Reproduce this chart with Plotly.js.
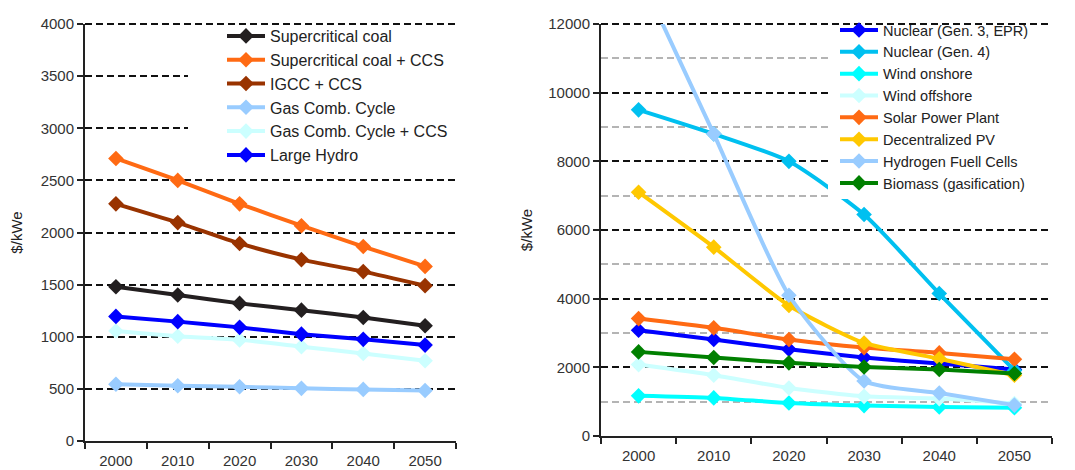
<!DOCTYPE html>
<html>
<head>
<meta charset="utf-8">
<script src="https://cdn.plot.ly/plotly-3.0.1.min.js"></script>
<style>html,body{margin:0;padding:0;background:#fff;}#chart{width:1075px;height:470px;}</style>
</head>
<body>
<div id="chart"></div>
<script>
// ---- data ----
const years = ["2000", "2010", "2020", "2030", "2040", "2050"];

// left chart
const leftNames = ["Supercritical coal", "Supercritical coal + CCS", "IGCC + CCS", "Gas Comb. Cycle", "Gas Comb. Cycle + CCS", "Large Hydro"];
const supercriticalCoal = [1480, 1400, 1320, 1255, 1185, 1105];
const supercriticalCoalCCS = [2710, 2500, 2275, 2065, 1865, 1675];
const igccCCS = [2275, 2095, 1895, 1740, 1625, 1490];
const gasCombCycle = [545, 530, 520, 505, 495, 485];
const gasCombCycleCCS = [1055, 1005, 970, 905, 840, 770];
const largeHydro = [1195, 1145, 1090, 1025, 975, 920];

// right chart
const rightNames = ["Nuclear (Gen. 3, EPR)", "Nuclear (Gen. 4)", "Wind onshore", "Wind offshore", "Solar Power Plant", "Decentralized PV", "Hydrogen Fuell Cells", "Biomass (gasification)"];
const nuclearGen3 = [3080, 2810, 2525, 2285, 2110, 1935];
const nuclearGen4 = [9500, 8800, 8000, 6450, 4150, 1910];
const windOnshore = [1170, 1110, 960, 885, 845, 825];
const windOffshore = [2080, 1770, 1400, 1155, 1090, 945];
const solarPowerPlant = [3420, 3150, 2810, 2575, 2420, 2235];
const decentralizedPV = [7100, 5500, 3800, 2710, 2250, 1770];
const hydrogenFuelCells = [13500, 8800, 4100, 1600, 1250, 900];
const biomass = [2450, 2285, 2130, 2010, 1935, 1820];

const leftSeries = [supercriticalCoal, supercriticalCoalCCS, igccCCS, gasCombCycle, gasCombCycleCCS, largeHydro];
const leftColors = ["#231f20", "#ff6a13", "#993300", "#99ccff", "#ccffff", "#0000ff"];
const rightSeries = [nuclearGen3, nuclearGen4, windOnshore, windOffshore, solarPowerPlant, decentralizedPV, hydrogenFuelCells, biomass];
const rightColors = ["#0000ff", "#00c0f0", "#00ffff", "#ccffff", "#ff6a13", "#ffc800", "#99ccff", "#008000"];

const FONT = "Liberation Sans, Arial, sans-serif";

function mk(name, ys, color, xa, ya, leg) {
  return {
    type: "scatter", mode: "lines+markers", name: name,
    x: years, y: ys, xaxis: xa, yaxis: ya, legend: leg,
    line: {color: color, width: 4, shape: "spline", smoothing: 0.6},
    marker: {symbol: "diamond", size: 12, color: color},
    cliponaxis: true
  };
}
const traces = [];
leftNames.forEach((n, i) => traces.push(mk(n, leftSeries[i], leftColors[i], "x", "y", "legend")));
rightNames.forEach((n, i) => traces.push(mk(n, rightSeries[i], rightColors[i], "x2", "y2", "legend2")));

const W = 1075, H = 470;
const GRID = "#111", DASH = "7px,4px";
const xCommon = {
  type: "category", tickson: "boundaries", ticks: "outside", ticklen: 6, tickwidth: 2,
  tickcolor: "#222", showline: true, linecolor: "#222", linewidth: 2, showgrid: false,
  range: [-0.5, 5.5], tickfont: {family: FONT, size: 15, color: "#333"}, fixedrange: true,
  ticklabelstandoff: 5
};
const yCommon = {
  ticks: "outside", ticklen: 6, tickwidth: 2, tickcolor: "#222", showline: true,
  linecolor: "#222", linewidth: 2, zeroline: false, showgrid: true, gridcolor: GRID,
  griddash: DASH, gridwidth: 2, tickfont: {family: FONT, size: 15, color: "#333"},
  fixedrange: true, tickformat: "d"
};

const layout = {
  width: W, height: H,
  margin: {l: 0, r: 0, t: 0, b: 0},
  paper_bgcolor: "#fff", plot_bgcolor: "#fff",
  font: {family: FONT, color: "#222"},
  xaxis: Object.assign({}, xCommon, {domain: [85 / W, 456 / W], anchor: "y"}),
  yaxis: Object.assign({}, yCommon, {domain: [1 - 441 / H, 1 - 24 / H], anchor: "x", range: [0, 4000], dtick: 500,
    title: {text: "$/kWe", font: {family: FONT, size: 15, color: "#222"}, standoff: 14}}),
  xaxis2: Object.assign({}, xCommon, {domain: [601 / W, 1052 / W], anchor: "y2"}),
  yaxis2: Object.assign({}, yCommon, {domain: [1 - 436 / H, 1 - 24 / H], anchor: "x2", range: [0, 12000], dtick: 2000,
    minor: {dtick: 1000, showgrid: true, gridcolor: "#b4b4b4", griddash: DASH, gridwidth: 2, ticks: ""},
    title: {text: "$/kWe", font: {family: FONT, size: 15, color: "#222"}, standoff: 12}}),
  legend: {x: 222 / W, y: 1 - 19 / H, xanchor: "left", yanchor: "top", bgcolor: "rgba(0,0,0,0)",
    font: {family: FONT, size: 16, color: "#222"}, itemwidth: 38, traceorder: "normal"},
  legend2: {x: 835 / W, y: 1 - 14 / H, xanchor: "left", yanchor: "top", bgcolor: "rgba(0,0,0,0)",
    font: {family: FONT, size: 14.5, color: "#222"}, itemwidth: 38, traceorder: "normal"},
  shapes: [
    // top gridlines at the edge of each plot (4000 and 12000)
    {type: "line", xref: "x domain", yref: "y domain", x0: 0, x1: 1, y0: 1, y1: 1,
      line: {color: GRID, width: 2, dash: DASH}, layer: "below"},
    {type: "line", xref: "x2 domain", yref: "y2 domain", x0: 0, x1: 1, y0: 1, y1: 1,
      line: {color: GRID, width: 2, dash: DASH}, layer: "below"},
    // legend background areas
    {type: "rect", xref: "x domain", yref: "y", x0: (188 - 85) / 371, x1: 1, y0: 2620, y1: 3975,
      fillcolor: "#fff", line: {width: 0}, layer: "above"},
    {type: "rect", xref: "x2 domain", yref: "y2", x0: (828 - 601) / 451, x1: 1, y0: 6900, y1: 11930,
      fillcolor: "#fff", line: {width: 0}, layer: "above"}
  ],
  showlegend: true
};

Plotly.newPlot("chart", traces, layout, {staticPlot: true, displayModeBar: false});
</script>
</body>
</html>
